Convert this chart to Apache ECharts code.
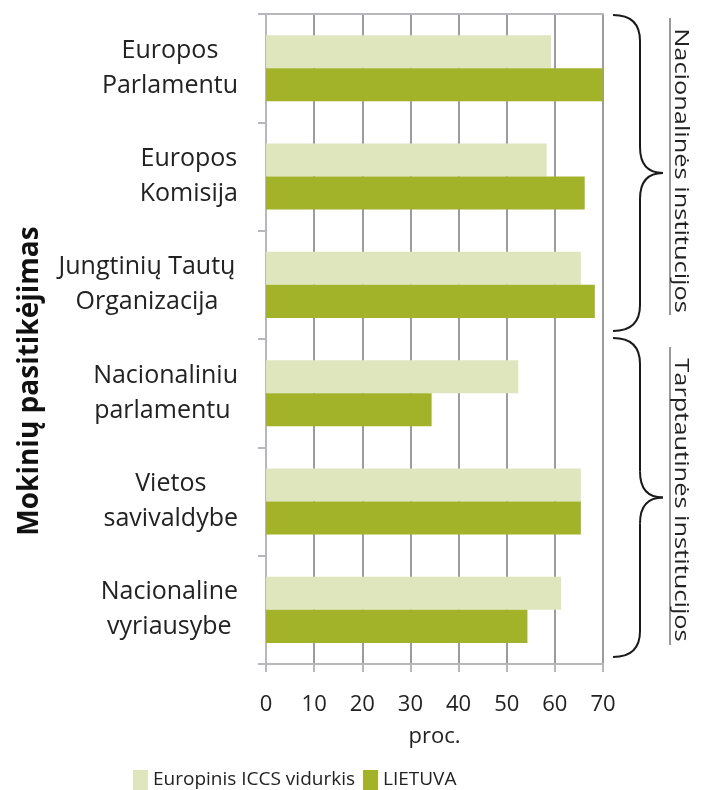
<!DOCTYPE html>
<html>
<head>
<meta charset="utf-8">
<script src="https://cdn.jsdelivr.net/npm/echarts@6/dist/echarts.min.js"></script>
<style>
  html, body { margin: 0; padding: 0; background: #fff; }
  #chart { width: 707px; height: 790px; }
</style>
</head>
<body>
<div id="chart"></div>
<script>
// kategorijos (iš viršaus į apačią)
const categories = [
  'Europos\nParlamentu',
  'Europos\nKomisija',
  'Jungtinių Tautų\nOrganizacija',
  'Nacionaliniu\nparlamentu ',
  'Vietos\nsavivaldybe',
  'Nacionaline\nvyriausybe'
];
const seriesNames = ['Europinis ICCS vidurkis', 'LIETUVA'];
const iccsValues = [59.2, 58.3, 65.4, 52.4, 65.4, 61.3];
const lietuvaValues = [70, 66.2, 68.3, 34.4, 65.4, 54.3];
const xTicks = [0, 10, 20, 30, 40, 50, 60, 70];
const groupLabels = ['Nacionalinės institucijos', 'Tarptautinės institucijos'];
const yTitle = 'Mokinių pasitikėjimas';

const FONT = '"Open Sans", sans-serif';
const chart = echarts.init(document.getElementById('chart'));

// riestinis skliaustas iš kreivių ir linijų
function braceParts(x0, x1, xc, top, bottom, r) {
  const m = (top + bottom) / 2;
  const st = { stroke: '#1a1a1a', lineWidth: 2, fill: null };
  const curve = (ax, ay, bx, by, cx, cy) => ({
    type: 'bezierCurve', shape: { x1: ax, y1: ay, x2: bx, y2: by, cpx1: cx, cpy1: cy }, style: st
  });
  const line = (ax, ay, bx, by) => ({
    type: 'line', shape: { x1: ax, y1: ay, x2: bx, y2: by }, style: st
  });
  return [
    curve(x0, top, x1, top + r, x1, top),
    line(x1, top + r, x1, m - r),
    curve(x1, m - r, xc, m, x1, m),
    curve(xc, m, x1, m + r, x1, m),
    line(x1, m + r, x1, bottom - r),
    curve(x1, bottom - r, x0, bottom, x1, bottom)
  ];
}

const groups = [
  { top: 15, bottom: 331, textTop: 18, textBottom: 315 },
  { top: 338, bottom: 657, textTop: 347, textBottom: 645 }
];

const graphic = [];
groups.forEach((g, i) => {
  graphic.push(...braceParts(613, 640, 663, g.top, g.bottom, 26));
  graphic.push({
    type: 'line',
    shape: { x1: 670, y1: g.textTop, x2: 670, y2: g.textBottom },
    style: { stroke: '#555', lineWidth: 1.2 }
  });
  graphic.push({
    type: 'text',
    x: 681,
    y: (g.textTop + g.textBottom) / 2 + 4,
    rotation: -Math.PI / 2,
    scaleX: 1.27,
    style: {
      text: groupLabels[i],
      font: `20px ${FONT}`,
      fill: '#222',
      textAlign: 'center',
      textVerticalAlign: 'middle'
    }
  });
});
// ašies pavadinimas kairėje
graphic.push({
  type: 'text',
  x: 30,
  y: 381,
  rotation: Math.PI / 2,
  style: {
    text: yTitle,
    font: `bold 28px ${FONT}`,
    fill: '#111',
    textAlign: 'center',
    textVerticalAlign: 'middle'
  }
});

const labelStyle = { align: 'center', fontFamily: FONT, fontSize: 25, color: '#222', lineHeight: 35 };

const option = {
  animation: false,
  backgroundColor: '#fff',
  color: ['#dfe6bd', '#a2b229'],
  grid: { left: 266, right: 104, top: 14, bottom: 126 },
  legend: {
    data: seriesNames,
    left: 128,
    bottom: -5,
    itemWidth: 15,
    itemHeight: 20,
    itemGap: 8,
    icon: 'rect',
    textStyle: { fontFamily: FONT, fontSize: 19, color: '#222' }
  },
  xAxis: [{
    type: 'value',
    min: 0,
    max: 70,
    interval: 10,
    name: 'proc.',
    nameLocation: 'middle',
    nameGap: 62,
    nameTextStyle: { fontFamily: FONT, fontSize: 22, color: '#222' },
    axisLine: { show: true, lineStyle: { color: '#b8b8bc', width: 2 } },
    axisTick: { show: true, length: 8, lineStyle: { color: '#b8b8bc', width: 2 } },
    axisLabel: {
      margin: 30,
      fontFamily: FONT,
      fontSize: 22,
      color: '#222',
      formatter: v => (xTicks.includes(v) ? String(v) : '')
    },
    splitLine: { show: true, lineStyle: { color: '#9c9ca0', width: 2 } }
  }, {
    type: 'value',
    position: 'top',
    min: 0,
    max: 70,
    axisLine: { show: true, lineStyle: { color: '#b8b8bc', width: 2 } },
    axisTick: { show: false },
    axisLabel: { show: false },
    splitLine: { show: false }
  }],
  yAxis: {
    type: 'category',
    inverse: true,
    data: categories,
    axisLine: { show: true, lineStyle: { color: '#b8b8bc', width: 2 } },
    axisTick: { show: true, length: 8, lineStyle: { color: '#b8b8bc', width: 2 } },
    axisLabel: {
      margin: 28,
      formatter: v => {
        const key = v.indexOf('ų') >= 0 ? 'w' : 'c';
        return v.split('\n').map(s => `{${key}|${s}}`).join('\n');
      },
      rich: {
        c: labelStyle,
        w: Object.assign({}, labelStyle, { width: 182 })
      }
    }
  },
  series: [{
    name: seriesNames[0],
    type: 'bar',
    data: iccsValues,
    barGap: '0%',
    barCategoryGap: '39%'
  }, {
    name: seriesNames[1],
    type: 'bar',
    data: lietuvaValues,
    barGap: '0%',
    barCategoryGap: '39%'
  }],
  graphic: graphic
};

chart.setOption(option);
</script>
</body>
</html>
